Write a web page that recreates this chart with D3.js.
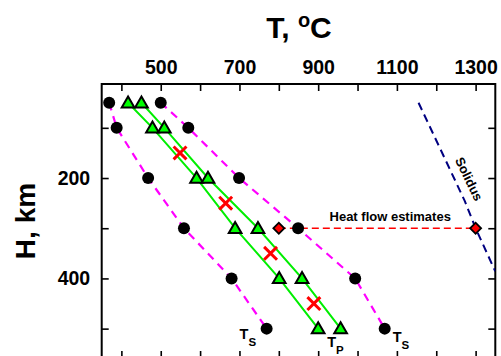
<!DOCTYPE html>
<html>
<head>
<meta charset="utf-8">
<script src="https://cdn.jsdelivr.net/npm/d3@7"></script>
<style>
  body { margin: 0; background: #fff; }
  text { font-family: "Liberation Sans", Arial, sans-serif; font-weight: bold; }
</style>
</head>
<body>
<svg id="chart"></svg>
<script>
const width = 501, height = 356;

// depth rows (km) for the geotherm points
const depths = [50, 100, 200, 300, 400, 500];
const tsCold = [369, 388, 468, 559, 680, 769];
const tpLow  = [417, 479, 591, 689, 801, 900];
const tpHigh = [451, 509, 620, 747, 859, 957];
const tsHot  = [500, 570, 699, 849, 994, 1069];
// red crosses
const crossT = [549, 665, 779, 889];
const crossH = [150, 250, 350, 450];
// heat flow estimates
const heatT = [800, 1300];
const heatH = [300, 300];
// solidus curve
const solidusT = [1155, 1272, 1300, 1350];
const solidusH = [50, 245, 300, 386];

const xTicks = [400, 500, 600, 700, 800, 900, 1000, 1100, 1200, 1300];
const yTicks = [100, 200, 300, 400, 500];

const svg = d3.select("#chart")
    .attr("width", width)
    .attr("height", height);

const pLeft = 101.7, pRight = 495.3, pTop = 84, pBottom = 358;

const x = d3.scaleLinear().domain([350, 1350]).range([pLeft, pRight]);
const y = d3.scaleLinear().domain([12.7, 558.5]).range([pTop, pBottom]);

svg.append("clipPath").attr("id", "plotclip")
  .append("rect")
    .attr("x", pLeft).attr("y", pTop)
    .attr("width", pRight - pLeft).attr("height", pBottom - pTop);

// axes (ticks point inward)
const gTop = svg.append("g").attr("transform", `translate(0,${pTop})`)
    .call(d3.axisTop(x).tickValues(xTicks).tickSize(-7).tickPadding(10.5)
        .tickFormat(d => d % 200 === 100 ? d : ""));
const gBot = svg.append("g").attr("transform", `translate(0,${pBottom})`)
    .call(d3.axisBottom(x).tickValues(xTicks).tickSize(-7).tickFormat(""));
const gLeft = svg.append("g").attr("transform", `translate(${pLeft},0)`)
    .call(d3.axisLeft(y).tickValues(yTicks).tickSize(-7).tickPadding(11.5)
        .tickFormat(d => d % 200 === 0 ? d : ""));
const gRight = svg.append("g").attr("transform", `translate(${pRight},0)`)
    .call(d3.axisRight(y).tickValues(yTicks).tickSize(-7).tickFormat(""));

[gTop, gBot, gLeft, gRight].forEach(g => {
  g.select(".domain").remove();
  g.selectAll(".tick line").attr("stroke", "#000").attr("stroke-width", 1.6);
  g.selectAll(".tick text").attr("font-size", 19.5).attr("fill", "#000")
    .attr("font-family", "Liberation Sans, Arial, sans-serif").attr("font-weight", "bold");
});

svg.append("rect")
    .attr("x", pLeft).attr("y", pTop)
    .attr("width", pRight - pLeft).attr("height", pBottom - pTop)
    .attr("fill", "none").attr("stroke", "#000").attr("stroke-width", 2);

// titles
const title = svg.append("text")
    .attr("x", 299).attr("y", 38)
    .attr("text-anchor", "middle")
    .attr("font-size", 30);
title.append("tspan").text("T, ");
title.append("tspan").attr("font-size", 20).attr("dy", -11).text("o");
title.append("tspan").attr("dy", 11).text("C");

svg.append("text")
    .attr("transform", "translate(35,221) rotate(-90)")
    .attr("text-anchor", "middle")
    .attr("font-size", 28)
    .text("H, km");

const plot = svg.append("g").attr("clip-path", "url(#plotclip)");
const line = d3.line().x(d => x(d[0])).y(d => y(d[1]));
const pts = arr => arr.map((t, i) => [t, depths[i]]);

// solidus
plot.append("path")
    .datum(solidusT.map((t, i) => [t, solidusH[i]]))
    .attr("d", line)
    .attr("fill", "none").attr("stroke", "#000080")
    .attr("stroke-width", 2).attr("stroke-dasharray", "8,5");

// Ts curves
[tsCold, tsHot].forEach(arr => {
  plot.append("path").datum(pts(arr)).attr("d", line)
    .attr("fill", "none").attr("stroke", "#ff00ff")
    .attr("stroke-width", 2.2).attr("stroke-dasharray", "8,6");
});
// Tp curves
[tpLow, tpHigh].forEach(arr => {
  plot.append("path").datum(pts(arr)).attr("d", line)
    .attr("fill", "none").attr("stroke", "#00ee00")
    .attr("stroke-width", 2);
});

// heat flow dashed line
plot.append("path")
    .datum(heatT.map((t, i) => [t, heatH[i]]))
    .attr("d", line)
    .attr("fill", "none").attr("stroke", "#ff0000")
    .attr("stroke-width", 1.6).attr("stroke-dasharray", "7,4");

// circles
plot.selectAll("circle.ts")
  .data(pts(tsCold).concat(pts(tsHot)))
  .enter().append("circle")
    .attr("cx", d => x(d[0])).attr("cy", d => y(d[1]))
    .attr("r", 6).attr("fill", "#000");

// triangles
const tri = d3.symbol().type(d3.symbolTriangle).size(70);
plot.selectAll("path.tp")
  .data(pts(tpLow).concat(pts(tpHigh)))
  .enter().append("path")
    .attr("d", tri)
    .attr("transform", d => `translate(${x(d[0])},${y(d[1]) + 1})`)
    .attr("fill", "#00ff00").attr("stroke", "#000").attr("stroke-width", 2);

// crosses
const cross = d3.symbol().type(d3.symbolX).size(110);
plot.selectAll("path.cross")
  .data(crossT.map((t, i) => [t, crossH[i]]))
  .enter().append("path")
    .attr("d", cross)
    .attr("transform", d => `translate(${x(d[0])},${y(d[1])})`)
    .attr("fill", "none").attr("stroke", "#ff0000").attr("stroke-width", 3);

// diamonds
const diamond = d3.symbol().type(d3.symbolSquare).size(60);
plot.selectAll("path.hf")
  .data(heatT.map((t, i) => [t, heatH[i]]))
  .enter().append("path")
    .attr("d", diamond)
    .attr("transform", d => `translate(${x(d[0])},${y(d[1])}) rotate(45)`)
    .attr("fill", "#ff0000").attr("stroke", "#000").attr("stroke-width", 1.8);

// annotations
svg.append("text")
    .attr("x", x(1083)).attr("y", y(heatH[0]) - 7.6)
    .attr("text-anchor", "middle").attr("font-size", 13)
    .text("Heat flow estimates");

svg.append("text")
    .attr("transform", "translate(469,179) rotate(64)")
    .attr("text-anchor", "middle").attr("dominant-baseline", "central")
    .attr("font-size", 13)
    .text("Solidus");

function subLabel(px, py, main, sub) {
  const t = svg.append("text").attr("x", px).attr("y", py).attr("font-size", 14.5);
  t.append("tspan").text(main);
  t.append("tspan").attr("font-size", 11.5).attr("dy", 7).text(sub);
}
const last = depths.length - 1;
subLabel(x(tsCold[last]) - 27, y(depths[last]) + 10, "T", "S");
subLabel(x(tpLow[last]) + 9, y(depths[last]) + 18, "T", "P");
subLabel(x(tsHot[last]) + 8, y(depths[last]) + 13, "T", "S");
</script>
</body>
</html>
